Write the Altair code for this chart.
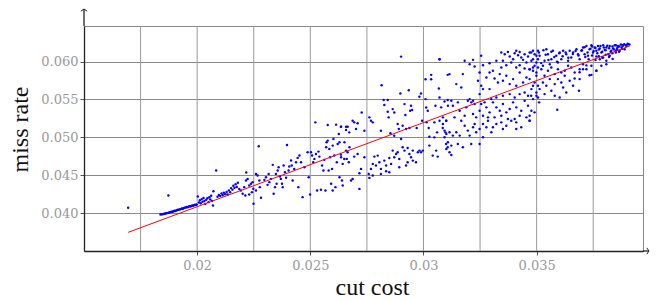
import altair as alt
import pandas as pd

# values in units of 1e-5 : (cut cost, miss rate)
SCALE = 1e-5

band_lower_left = [
    (1695, 4071), (1873, 4233), (1838, 3982), (1843, 3985), (1848, 3984), (1852, 3990), (1856, 3992),
    (1860, 3995), (1863, 3998), (1867, 4000), (1871, 4003), (1876, 4008), (1880, 4010), (1884, 4016),
    (1888, 4020), (1892, 4018), (1896, 4025), (1900, 4030), (1904, 4028), (1908, 4036), (1912, 4040),
    (1916, 4044), (1921, 4046), (1925, 4050), (1929, 4056), (1933, 4060), (1937, 4058), (1941, 4066),
    (1945, 4070), (1950, 4074), (1954, 4080), (1958, 4078), (1962, 4086), (1966, 4090), (1970, 4088),
    (1974, 4095), (1978, 4100), (1982, 4098), (1986, 4104), (1990, 4110), (1994, 4108), (1998, 4115),
]

band_020 = [
    (2003, 4220), (2008, 4140), (2012, 4170), (2016, 4130), (2020, 4185), (2024, 4150), (2028, 4200),
    (2032, 4160), (2036, 4120), (2040, 4175), (2045, 4195), (2050, 4145), (2054, 4210), (2058, 4180),
    (2062, 4230), (2066, 4160), (2070, 4100), (2072, 4290), (2084, 4562), (2090, 4215), (2096, 4240),
    (2102, 4225), (2108, 4260), (2113, 4235), (2118, 4270), (2124, 4250), (2130, 4280), (2135, 4245),
    (2140, 4300), (2146, 4275), (2150, 4330), (2156, 4310), (2160, 4360), (2165, 4335), (2170, 4380),
    (2175, 4345), (2180, 4400), (2186, 4320), (2217, 4536),
]

band_023 = [
    (2193, 4299), (2208, 4343), (2216, 4431), (2223, 4452), (2230, 4365), (2238, 4387), (2245, 4409),
    (2248, 4321), (2201, 4255), (2213, 4233), (2230, 4246), (2242, 4277), (2260, 4299), (2267, 4496),
    (2260, 4518), (2275, 4431), (2277, 4343), (2282, 4202), (2249, 4123), (2272, 4882), (2297, 4439),
    (2304, 4474), (2311, 4373), (2316, 4518), (2319, 4409), (2326, 4452), (2334, 4637), (2338, 4255),
    (2344, 4343), (2348, 4518), (2351, 4387), (2356, 4562), (2360, 4606), (2366, 4483), (2370, 4452),
    (2375, 4387), (2378, 4343), (2382, 4628), (2388, 4540), (2393, 4466), (2397, 4900), (2404, 4562),
    (2407, 4615), (2415, 4694), (2418, 4628), (2422, 4431), (2429, 4584), (2437, 4672), (2444, 4729),
    (2447, 4343), (2452, 4760), (2459, 4672), (2466, 4211), (2474, 4606), (2488, 4803), (2493, 4474),
    (2499, 4246), (2503, 4803), (2508, 4760), (2513, 4672), (2518, 4716), (2522, 5198), (2525, 4781),
    (2530, 4299), (2536, 4812), (2540, 4746), (2547, 4308), (2552, 4628), (2558, 4562), (2562, 4703),
    (2567, 4299), (2570, 4869), (2572, 4935), (2577, 5163), (2577, 4957), (2581, 4562), (2584, 4847),
    (2587, 4738), (2592, 4387), (2596, 4584), (2599, 4891), (2602, 4979), (2606, 4760), (2611, 4343),
    (2614, 5168), (2617, 4672), (2621, 4913), (2626, 5045), (2629, 4935), (2636, 5141), (2636, 4738),
    (2640, 4431), (2643, 4650), (2651, 4935), (2658, 5141), (2661, 4716), (2665, 4803), (2670, 4672),
    (2673, 4869), (2599, 4299), (2629, 4474),
]

band_028 = [
    (2901, 6066), (3071, 6031), (2815, 5689), (3107, 5825), (3034, 5825), (3034, 5768), (3009, 5768),
    (2898, 5579), (2935, 5623), (2824, 5492), (2842, 5492), (2827, 5426), (2989, 5579), (2982, 5536),
    (3009, 5505), (3068, 5645), (3071, 5527), (3093, 5474), (3107, 5492), (2864, 5373), (2842, 5338),
    (2871, 5329), (2916, 5439), (2945, 5417), (2950, 5360), (2920, 5294), (2941, 5351), (3012, 5395),
    (3019, 5351), (3053, 5417), (2727, 5329), (2687, 5220), (2694, 5198), (2709, 5185), (2702, 5110),
    (2635, 5141), (2658, 5097), (2665, 5141), (2672, 5066), (2739, 5088), (2761, 5264), (2768, 5220),
    (2776, 5198), (2812, 5088), (2846, 5264), (2886, 5176), (2891, 5110), (2908, 5154), (2923, 5110),
    (2938, 5123), (2970, 5123), (2994, 5220), (3014, 5198), (3023, 5123), (3048, 5198), (3060, 5066),
    (3085, 5123), (3097, 5066), (3100, 5220), (2854, 5053), (2871, 5022), (2901, 4978), (3026, 5009),
    (3048, 5000), (3100, 4913),
]

branch_low_028 = [
    (2635, 4772), (2658, 4825), (2650, 4715), (2694, 4746), (2709, 4781), (2739, 4737), (2783, 4746),
    (2790, 4628), (2805, 4671), (2812, 4584), (2827, 4693), (2835, 4628), (2849, 4728), (2857, 4650),
    (2864, 4825), (2871, 4737), (2879, 4781), (2886, 4803), (2893, 4715), (2908, 4869), (2916, 4825),
    (2930, 4860), (2938, 4781), (2945, 4737), (2953, 4825), (2967, 4671), (2975, 4803), (2982, 4825),
    (2997, 4825), (3026, 4891), (3041, 4759), (3056, 4825), (3063, 4746), (3107, 4869), (2798, 4759),
    (2776, 4650), (2768, 4584), (2758, 4518), (2724, 4584), (2717, 4527), (2687, 4452), (2680, 4430),
    (2643, 4364), (2717, 4320), (2761, 4465), (2776, 4496), (2812, 4518), (2835, 4553), (2849, 4540),
    (2893, 4606), (2923, 4628), (2930, 4671), (2953, 4693), (2989, 4803),
]

band_032_top = [
    (3344, 6120), (3359, 6098), (3373, 6128), (3381, 6067), (3396, 6032), (3403, 6111), (3410, 6142),
    (3418, 6085), (3425, 6128), (3432, 6054), (3440, 6023), (3447, 6098), (3455, 5988), (3462, 6067),
    (3469, 6120), (3477, 6010), (3484, 6142), (3491, 5944), (3499, 6076), (3506, 6032), (3351, 6010),
    (3366, 5953), (3388, 5988), (3410, 5922), (3425, 5953), (3447, 5909), (3469, 5900), (3484, 5878),
    (3506, 5922), (3344, 5922), (3255, 6076), (3219, 6023), (3182, 6010), (3204, 5966), (3263, 5953),
    (3226, 5935), (3292, 5979), (3322, 6010), (3307, 5878), (3071, 6032), (3115, 5835), (3145, 5703),
    (3167, 5659), (3174, 5835), (3241, 5747), (3248, 5856), (3255, 5681), (3263, 5637), (3278, 5791),
    (3292, 5856), (3314, 5777), (3329, 5725), (3337, 5835), (3351, 5747), (3366, 5813), (3381, 5703),
    (3396, 5769), (3410, 5681), (3425, 5856), (3440, 5725), (3455, 5791), (3469, 5769), (3491, 5725),
    (3499, 5813), (3506, 5681), (3477, 5637), (3447, 5593), (3462, 5549), (3425, 5571), (3403, 5527),
    (3381, 5571), (3351, 5549), (3322, 5527), (3292, 5637), (3300, 5505), (3270, 5462), (3248, 5571),
]

band_032_mid = [
    (3078, 5396), (3086, 5264), (3108, 5418), (3123, 5484), (3130, 5418), (3152, 5462), (3196, 5484),
    (3204, 5505), (3211, 5462), (3219, 5484), (3226, 5440), (3189, 5396), (3248, 5352), (3255, 5440),
    (3278, 5396), (3292, 5330), (3307, 5462), (3322, 5396), (3337, 5352), (3351, 5440), (3366, 5330),
    (3381, 5374), (3396, 5462), (3410, 5396), (3432, 5352), (3447, 5484), (3462, 5418), (3484, 5505),
    (3499, 5549), (3511, 5462), (3477, 5352), (3455, 5264), (3425, 5286), (3403, 5242), (3373, 5242),
    (3344, 5286), (3314, 5264), (3285, 5264), (3263, 5286), (3233, 5264), (3219, 5308), (3182, 5286),
    (3160, 5352), (3137, 5264), (3101, 5220),
]

branch_low_032 = [
    (3071, 5220), (3086, 5176), (3093, 5089), (3101, 5045), (3115, 5067), (3130, 5023), (3145, 5067),
    (3160, 5023), (3182, 5154), (3196, 5089), (3204, 5023), (3219, 5133), (3233, 5067), (3248, 5111),
    (3263, 5176), (3278, 5133), (3300, 5067), (3322, 5176), (3344, 5198), (3366, 5154), (3388, 5220),
    (3410, 5198), (3432, 5133), (3469, 5220), (3263, 5001), (3248, 4913), (3211, 4913), (3174, 4869),
    (3152, 4913), (3123, 4891), (3115, 4804), (3123, 4768), (3101, 4847), (3108, 4935), (3093, 5001),
    (3167, 5220), (3226, 5176), (3285, 5220), (3307, 5133), (3351, 5111), (3410, 5111),
]

band_036_top = [
    (3705, 6185), (3720, 6207), (3734, 6164), (3742, 6216), (3757, 6185), (3764, 6142), (3771, 6207),
    (3779, 6172), (3786, 6120), (3794, 6216), (3801, 6155), (3808, 6185), (3816, 6098), (3823, 6207),
    (3830, 6142), (3838, 6172), (3845, 6216), (3850, 6120), (3855, 6164), (3860, 6207), (3867, 6142),
    (3875, 6185), (3882, 6216), (3889, 6164), (3897, 6207), (3904, 6229), (3712, 6098), (3727, 6076),
    (3749, 6120), (3764, 6067), (3779, 6032), (3794, 6054), (3808, 6010), (3823, 6076), (3698, 6142),
    (3690, 6032), (3683, 6098), (3676, 6164), (3661, 6120), (3653, 6054), (3646, 6142), (3639, 6010),
    (3631, 6098), (3617, 6142), (3609, 6032), (3602, 6120), (3594, 5988), (3587, 6076), (3572, 6142),
    (3565, 6032), (3558, 5966), (3550, 6098), (3543, 6164), (3535, 6010), (3528, 5944), (3513, 6076),
    (3506, 6142), (3499, 5988), (3491, 6098), (3484, 6032), (3476, 6120),
]

band_036_low = [
    (3469, 5900), (3484, 5922), (3499, 5856), (3521, 5900), (3535, 5813), (3550, 5878), (3565, 5922),
    (3580, 5835), (3594, 5900), (3609, 5856), (3624, 5878), (3639, 5944), (3653, 5922), (3668, 5856),
    (3690, 5900), (3705, 5966), (3720, 5900), (3742, 5944), (3764, 5878), (3786, 5944), (3808, 5966),
    (3734, 5821), (3690, 5769), (3668, 5777), (3646, 5747), (3624, 5813), (3609, 5725), (3594, 5769),
    (3580, 5703), (3558, 5769), (3543, 5681), (3528, 5725), (3513, 5637), (3499, 5593), (3484, 5681),
    (3476, 5549), (3506, 5527), (3535, 5571), (3565, 5615), (3580, 5549), (3602, 5527), (3617, 5659),
    (3631, 5593), (3661, 5681), (3687, 5615), (3591, 5365), (3491, 5330), (3469, 5286), (3469, 5220),
]

cluster_top_right = [
    (3700, 6150), (3712, 6190), (3725, 6120), (3738, 6170), (3745, 6200), (3752, 6140), (3760, 6180),
    (3768, 6110), (3775, 6160), (3782, 6205), (3790, 6130), (3797, 6185), (3805, 6150), (3812, 6210),
    (3820, 6175), (3827, 6130), (3835, 6200), (3842, 6160), (3850, 6215), (3857, 6185), (3865, 6200),
    (3872, 6225), (3880, 6210), (3887, 6230), (3895, 6215), (3902, 6235), (3910, 6225), (3660, 6100),
    (3672, 6140), (3685, 6080), (3640, 6050), (3628, 6120), (3615, 6070), (3600, 6110), (3590, 6000),
    (3578, 6060), (3565, 6130), (3552, 6020), (3540, 6090), (3530, 6150), (3520, 5980), (3510, 6120),
    (3715, 6060), (3730, 6030), (3745, 6080), (3760, 6020), (3775, 6070), (3790, 6050), (3805, 6090),
    (3820, 6060), (3835, 6110), (3850, 6140), (3864, 6130), (3878, 6170), (3742, 5825), (3764, 5878),
    (3705, 5900), (3720, 5950), (3690, 5860), (3836, 6036),
]

fit_cost = [0.01695, 0.03912]
fit_rate = [0.03746, 0.06207]
grid_cost = [0.0175, 0.02, 0.0225, 0.025, 0.0275, 0.03, 0.0325, 0.035, 0.0375]
x_ticks = [0.02, 0.025, 0.03, 0.035]
y_ticks = [0.040, 0.045, 0.050, 0.055, 0.060]

all_points = (band_lower_left + band_020 + band_023 + band_028 + branch_low_028 + band_032_top
              + band_032_mid + branch_low_032 + band_036_top + band_036_low + cluster_top_right)
df = pd.DataFrame(all_points, columns=["cut", "miss"]) * SCALE
fit_df = pd.DataFrame({"cut": fit_cost, "miss": fit_rate})
grid_df = pd.DataFrame({"cut": grid_cost})
one = pd.DataFrame({"a": [0]})

W, H = 559, 225
xs = alt.Scale(domain=[0.015, 0.0397], nice=False, zero=False)
ys = alt.Scale(domain=[0.035, 0.0647], nice=False, zero=False)

x_axis = alt.Axis(values=x_ticks, format="~g", title="cut cost", grid=False,
                  domainColor="#222", domainWidth=1.3, tickColor="#555", tickSize=4,
                  labelColor="#999", labelFont="DejaVu Serif", labelFontSize=13, labelPadding=4,
                  titleFont="Liberation Serif", titleFontSize=24, titleFontWeight="normal",
                  titleColor="#111", titleX=288, titleY=43, titleBaseline="alphabetic",
                  titleAlign="center")
y_axis = alt.Axis(values=y_ticks, format=".3f", title="miss rate", grid=True,
                  gridColor="#888", gridWidth=1,
                  domainColor="#222", domainWidth=1.3, tickColor="#555", tickSize=4,
                  labelColor="#999", labelFont="DejaVu Serif", labelFontSize=13, labelPadding=2,
                  titleFont="Liberation Serif", titleFontSize=24, titleFontWeight="normal",
                  titleColor="#111", titleAngle=-90, titleX=-57, titleY=103,
                  titleBaseline="alphabetic", titleAlign="center")

X = alt.X("cut:Q", scale=xs, axis=x_axis)
Y = alt.Y("miss:Q", scale=ys, axis=y_axis)

grid_v = alt.Chart(grid_df).mark_rule(color="#999", strokeWidth=1).encode(x=X)
pts = alt.Chart(df).mark_circle(size=6, color="#0000ff", opacity=1).encode(x=X, y=Y)
fit = alt.Chart(fit_df).mark_line(color="#ff0000", strokeWidth=1).encode(x=X, y=Y)

y_ext = alt.Chart(one).mark_rule(color="#222", strokeWidth=1.3).encode(
    x=alt.value(0), y=alt.value(0), y2=alt.value(-17))
y_head = alt.Chart(one).mark_point(shape="M-1,0.7L0,0L1,0.7", filled=False, size=40,
                                   strokeWidth=1, color="#222", opacity=1).encode(
    x=alt.value(0), y=alt.value(-17))
x_ext = alt.Chart(one).mark_rule(color="#222", strokeWidth=1.3).encode(
    x=alt.value(W), x2=alt.value(W + 6), y=alt.value(H))
x_head = alt.Chart(one).mark_point(shape="M-0.7,-1L0,0L-0.7,1", filled=False, size=40,
                                   strokeWidth=1, color="#222", opacity=1).encode(
    x=alt.value(W + 6), y=alt.value(H))

chart = alt.layer(grid_v, pts, fit, y_ext, y_head, x_ext, x_head).properties(
    width=W, height=H,
    autosize=alt.AutoSizeParams(type="none"),
    padding={"left": 76, "top": 18, "right": 8, "bottom": 48},
).configure_view(stroke="#888", strokeWidth=1)

chart.save("out.html", embed_options={"renderer": "svg", "actions": False})
